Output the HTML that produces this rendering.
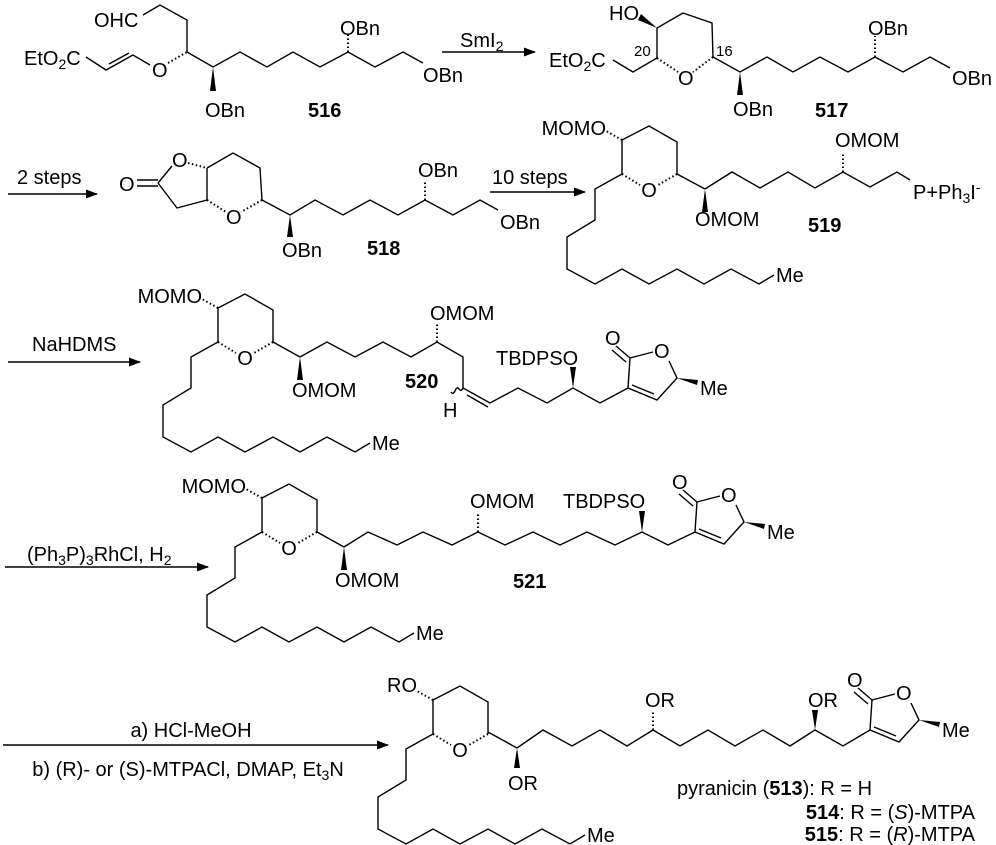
<!DOCTYPE html>
<html><head><meta charset="utf-8"><style>
html,body{margin:0;padding:0;background:#fff}
svg{display:block}
text{font-family:"Liberation Sans",Arial,sans-serif;font-size:20px;fill:#000}
.b{font-weight:bold}
.s{font-size:14px}
</style></head><body>
<svg width="996" height="845" viewBox="0 0 996 845" xmlns="http://www.w3.org/2000/svg">
<defs>
<marker id="ah" markerWidth="12" markerHeight="9" refX="11" refY="4.5" orient="auto" markerUnits="userSpaceOnUse">
<path d="M0,0 L12,4.5 L0,9 Z" fill="#000"/></marker>
</defs>
<g fill="none" stroke="#000" stroke-width="1.4">
<line x1="442" y1="52" x2="535" y2="52" marker-end="url(#ah)"/>
<line x1="8" y1="194" x2="97" y2="194" marker-end="url(#ah)"/>
<line x1="490" y1="192" x2="585" y2="192" marker-end="url(#ah)"/>
<line x1="8" y1="362" x2="140" y2="362" marker-end="url(#ah)"/>
<line x1="5" y1="567" x2="208" y2="567" marker-end="url(#ah)"/>
<line x1="3" y1="745" x2="388" y2="745" marker-end="url(#ah)"/>

<path d="M86,57 L106,70 L133,55 L150,65"/>
<path d="M109,64 L129,53"/>
<path d="M168,63 L187,52" stroke-dasharray="1.5,2.5" stroke-width="2"/>
<path d="M187,52 L187,20 L160,5 L143,15"/>
<path d="M187,52 L213,67 L240,52 L267,67 L293,52 L320,67 L348,52 L375,67 L403,52 L423,63"/>
<path d="M348,52 L348,33" stroke-dasharray="1.5,2.5" stroke-width="2"/>

<path d="M613,60 L633,72 L657,58 L657,28 L683,13 L712,23 L713,57"/>
<path d="M657,58 L678,72 M713,57 L693,72" stroke-dasharray="1.5,2.5" stroke-width="2"/>
<path d="M713,57 L740,72 L767,57 L793,72 L820,57 L848,72 L875,57 L903,72 L930,57 L950,68"/>
<path d="M875,57 L875,36" stroke-dasharray="1.5,2.5" stroke-width="2"/>

<path d="M137,180 L158,180 M137,186 L158,186"/>
<path d="M158,183 L172,166"/>
<path d="M188,163 L207,168" stroke-dasharray="1.5,2.5" stroke-width="2"/>
<path d="M207,168 L233,153 L260,168 L262,200 M207,168 L207,200 L177,208 L158,183"/>
<path d="M207,200 L226,212 M262,200 L241,212" stroke-dasharray="1.5,2.5" stroke-width="2"/>
<path d="M262,200 L290,215 L315,200 L343,215 L370,200 L398,215 L425,200 L453,215 L480,200 L498,210"/>
<path d="M425,200 L425,180" stroke-dasharray="1.5,2.5" stroke-width="2"/>

<path d="M705,189 L732,172 L760,188 L788,172 L815,188 L843,172 L870,187 L897,172 L910,180"/>
<path d="M843,172 L843,153" stroke-dasharray="1.5,2.5" stroke-width="2"/>

<path d="M300,357 L327,342 L355,357 L383,342 L411,357 L437,342 L463,357 L463,388 L490,403 L518,388 L547,403 L573,388 L600,403 L628,388"/>
<path d="M467,395 L488,407"/>
<path d="M463,388 q-2,4 -4,1 q-2,-3 -4,2 q-2,4 -4,1"/>
<path d="M437,342 L437,323" stroke-dasharray="1.5,2.5" stroke-width="2"/>

<path d="M344,547 L368,532 L397,545 L423,532 L452,545 L478,532 L505,545 L533,532 L560,545 L587,532 L615,545 L642,532 L668,545 L695,532"/>
<path d="M478,532 L478,513" stroke-dasharray="1.5,2.5" stroke-width="2"/>

<path d="M517,748 L543,730 L572,746 L600,730 L627,746 L653,730 L680,746 L708,730 L735,746 L763,730 L790,746 L815,730 L843,746 L870,730"/>
<path d="M653,730 L653,712" stroke-dasharray="1.5,2.5" stroke-width="2"/>
</g>

<g fill="#000">
<polygon points="213,67 210,91 216,91"/>
<polygon points="657,28 641,14 638,20"/>
<polygon points="740,72 737,95 743,95"/>
<polygon points="290,215 287,237 293,237"/>
<polygon points="573,388 570,367 576,367"/>
<polygon points="642,532 639,511 645,511"/>
<polygon points="815,730 812,710 818,710"/>
</g>

<g transform="translate(622,140)">
<g fill="none" stroke="#000" stroke-width="1.4">
<path d="M0,0 L27,-14 L55,2 L55,34 M0,0 L0,34"/>
<path d="M55,34 L36,45 M0,34 L18,45" stroke-dasharray="1.5,2.5" stroke-width="2"/>
<path d="M0,0 L-16,-9" stroke-dasharray="1.5,2.5" stroke-width="2"/>
<path d="M0,34 L-27,49 L-27,80 L-55,97 L-55,129 L-27,144 L0,129 L27,144 L55,129 L82,144 L109,129 L137,144 L152,135"/>
<path d="M55,34 L83,49"/>
</g>
<polygon points="83,49 80,72 86,72" fill="#000"/>
<text x="27" y="57" text-anchor="middle">O</text>
<text x="154" y="142">Me</text>
</g>
<g transform="translate(218,308)">
<g fill="none" stroke="#000" stroke-width="1.4">
<path d="M0,0 L27,-14 L55,2 L55,34 M0,0 L0,34"/>
<path d="M55,34 L36,45 M0,34 L18,45" stroke-dasharray="1.5,2.5" stroke-width="2"/>
<path d="M0,0 L-16,-9" stroke-dasharray="1.5,2.5" stroke-width="2"/>
<path d="M0,34 L-27,49 L-27,80 L-55,97 L-55,129 L-27,144 L0,129 L27,144 L55,129 L82,144 L109,129 L137,144 L152,135"/>
<path d="M55,34 L82,49"/>
</g>
<polygon points="82,49 79,72 85,72" fill="#000"/>
<text x="27" y="57" text-anchor="middle">O</text>
<text x="154" y="142">Me</text>
</g>
<g transform="translate(262,498)">
<g fill="none" stroke="#000" stroke-width="1.4">
<path d="M0,0 L27,-14 L55,2 L55,34 M0,0 L0,34"/>
<path d="M55,34 L36,45 M0,34 L18,45" stroke-dasharray="1.5,2.5" stroke-width="2"/>
<path d="M0,0 L-16,-9" stroke-dasharray="1.5,2.5" stroke-width="2"/>
<path d="M0,34 L-27,49 L-27,80 L-55,97 L-55,129 L-27,144 L0,129 L27,144 L55,129 L82,144 L109,129 L137,144 L152,135"/>
<path d="M55,34 L82,49"/>
</g>
<polygon points="82,49 79,72 85,72" fill="#000"/>
<text x="27" y="57" text-anchor="middle">O</text>
<text x="154" y="142">Me</text>
</g>
<g transform="translate(433,700)">
<g fill="none" stroke="#000" stroke-width="1.4">
<path d="M0,0 L27,-14 L55,2 L55,34 M0,0 L0,34"/>
<path d="M55,34 L36,45 M0,34 L18,45" stroke-dasharray="1.5,2.5" stroke-width="2"/>
<path d="M0,0 L-16,-9" stroke-dasharray="1.5,2.5" stroke-width="2"/>
<path d="M0,34 L-27,49 L-27,80 L-55,97 L-55,129 L-27,144 L0,129 L27,144 L55,129 L82,144 L109,129 L137,144 L152,135"/>
<path d="M55,32 L84,48"/>
</g>
<polygon points="84,48 81,68 87,68" fill="#000"/>
<text x="27" y="57" text-anchor="middle">O</text>
<text x="154" y="142">Me</text>
</g>

<g transform="translate(628,388)">
<g fill="none" stroke="#000" stroke-width="1.4">
<path d="M0,0 L2,-30 L25,-36 M41,-27 L49,-10 L29,12 L0,0 M26,6 L4,-3"/>
<path d="M2,-30 L-12,-42 M-2,-26 L-16,-38"/>
</g>
<polygon points="49,-10 70,-8 69,-3" fill="#000"/>
<text x="-23" y="-43">O</text>
<text x="26" y="-30">O</text>
<text x="72" y="7">Me</text>
</g>
<g transform="translate(695,532)">
<g fill="none" stroke="#000" stroke-width="1.4">
<path d="M0,0 L2,-30 L25,-36 M41,-27 L49,-10 L29,12 L0,0 M26,6 L4,-3"/>
<path d="M2,-30 L-12,-42 M-2,-26 L-16,-38"/>
</g>
<polygon points="49,-10 70,-8 69,-3" fill="#000"/>
<text x="-23" y="-43">O</text>
<text x="26" y="-30">O</text>
<text x="72" y="7">Me</text>
</g>
<g transform="translate(870,730)">
<g fill="none" stroke="#000" stroke-width="1.4">
<path d="M0,0 L2,-30 L25,-36 M41,-27 L49,-10 L29,12 L0,0 M26,6 L4,-3"/>
<path d="M2,-30 L-12,-42 M-2,-26 L-16,-38"/>
</g>
<polygon points="49,-10 70,-8 69,-3" fill="#000"/>
<text x="-23" y="-43">O</text>
<text x="26" y="-30">O</text>
<text x="72" y="7">Me</text>
</g>

<text x="24" y="65">EtO<tspan class="s" dy="4">2</tspan><tspan dy="-4">C</tspan></text>
<text x="152" y="77">O</text>
<text x="94" y="27">OHC</text>
<text x="205" y="117">OBn</text>
<text x="340" y="35">OBn</text>
<text x="423" y="82">OBn</text>
<text x="308" y="117" class="b">516</text>
<text x="460" y="47">SmI<tspan class="s" dy="4">2</tspan></text>

<text x="549" y="67">EtO<tspan class="s" dy="4">2</tspan><tspan dy="-4">C</tspan></text>
<text x="609" y="20">HO</text>
<text x="678" y="85">O</text>
<text x="634" y="56" style="font-size:15px">20</text>
<text x="716" y="56" style="font-size:15px">16</text>
<text x="733" y="116">OBn</text>
<text x="868" y="35">OBn</text>
<text x="952" y="85">OBn</text>
<text x="815" y="117" class="b">517</text>

<text x="17" y="184">2 steps</text>
<text x="119" y="191">O</text>
<text x="172" y="167">O</text>
<text x="226" y="224">O</text>
<text x="282" y="257">OBn</text>
<text x="418" y="177">OBn</text>
<text x="500" y="229">OBn</text>
<text x="367" y="255" class="b">518</text>

<text x="492" y="184">10 steps</text>
<text x="606" y="135" text-anchor="end">MOMO</text>
<text x="695" y="226">OMOM</text>
<text x="835" y="147">OMOM</text>
<text x="913" y="199">P+Ph<tspan class="s" dy="4">3</tspan><tspan dy="-4">I</tspan><tspan class="s" dy="-7">-</tspan></text>
<text x="808" y="232" class="b">519</text>

<text x="32" y="351">NaHDMS</text>
<text x="202" y="303" text-anchor="end">MOMO</text>
<text x="292" y="397">OMOM</text>
<text x="430" y="320">OMOM</text>
<text x="496" y="365">TBDPSO</text>
<text x="443" y="417">H</text>
<text x="405" y="388" class="b">520</text>

<text x="27" y="561">(Ph<tspan class="s" dy="4">3</tspan><tspan dy="-4">P)</tspan><tspan class="s" dy="4">3</tspan><tspan dy="-4">RhCl, H</tspan><tspan class="s" dy="4">2</tspan></text>
<text x="246" y="493" text-anchor="end">MOMO</text>
<text x="335" y="587">OMOM</text>
<text x="470" y="508">OMOM</text>
<text x="563" y="508">TBDPSO</text>
<text x="513" y="588" class="b">521</text>

<text x="191" y="737" text-anchor="middle">a) HCl-MeOH</text>
<text x="188" y="776" text-anchor="middle">b) (R)- or (S)-MTPACl, DMAP, Et<tspan class="s" dy="4">3</tspan><tspan dy="-4">N</tspan></text>
<text x="417" y="692" text-anchor="end">RO</text>
<text x="508" y="790">OR</text>
<text x="645" y="707">OR</text>
<text x="808" y="707">OR</text>
<text x="677" y="795">pyranicin (<tspan class="b">513</tspan>): R = H</text>
<text x="975" y="819" text-anchor="end"><tspan class="b">514</tspan>:  R = (<tspan font-style="italic">S</tspan>)-MTPA</text>
<text x="975" y="841" text-anchor="end"><tspan class="b">515</tspan>:  R = (<tspan font-style="italic">R</tspan>)-MTPA</text>
</svg>
</body></html>
